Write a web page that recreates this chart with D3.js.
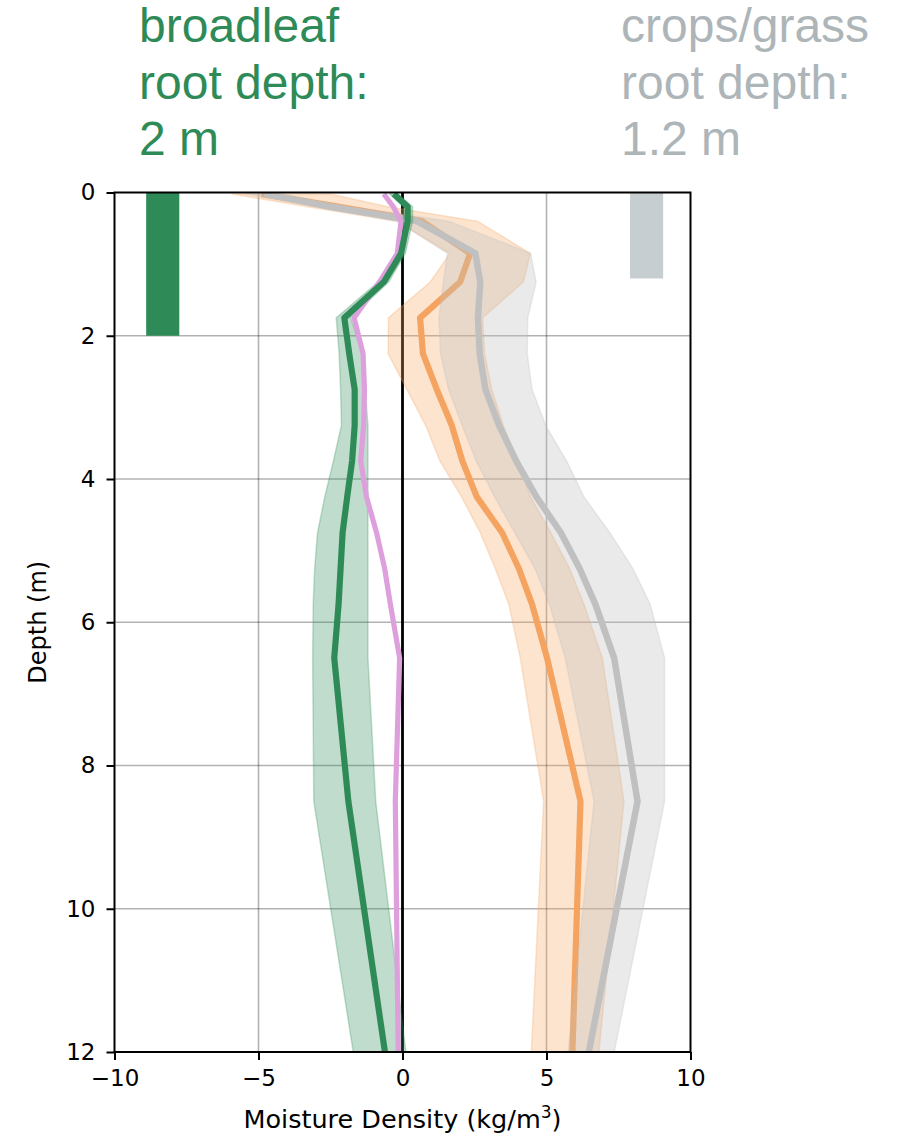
<!DOCTYPE html>
<html>
<head>
<meta charset="utf-8">
<script src="https://cdn.jsdelivr.net/npm/d3@7"></script>
<style>
  body { margin: 0; background: #fff; }
  svg { display: block; }
</style>
</head>
<body>
<svg id="chart" width="897" height="1138"></svg>
<script>
// Depth levels (m) at which the moisture-density profiles are sampled
const depth = [0.02, 0.2, 0.4, 0.85, 1.25, 1.75, 2.25, 2.75, 3.25, 3.75, 4.25, 4.75, 5.25, 5.75, 6.5, 8.5, 12];

// Broadleaf profile (green): mean and spread
const broadleafMean = [-0.3, 0.18, 0.18, -0.05, -0.65, -2.02, -1.85, -1.66, -1.66, -1.75, -1.92, -2.08, -2.15, -2.22, -2.37, -1.88, -0.61];
const broadleafLow  = [-0.45, 0.02, 0.02, -0.2, -0.85, -2.3, -2.2, -2.15, -2.12, -2.4, -2.7, -2.95, -3.05, -3.1, -3.12, -3.08, -1.71];
const broadleafHigh = [-0.15, 0.35, 0.35, 0.1, -0.48, -1.8, -1.4, -1.3, -1.2, -1.2, -1.2, -1.2, -1.2, -1.2, -1.2, -0.93, 0.12];

// Plum profile (no spread drawn)
const plumMean = [-0.65, -0.32, -0.05, -0.18, -0.8, -1.68, -1.37, -1.32, -1.35, -1.45, -1.25, -0.9, -0.62, -0.42, -0.1, -0.25, -0.15];

// Orange profile: mean and spread
const orangeMean = [-4.9, -2.2, 0.67, 2.35, 2.0, 0.61, 0.71, 1.19, 1.71, 2.08, 2.58, 3.46, 4.04, 4.5, 5.02, 6.18, 5.9];
const orangeLow  = [-5.9, -3.3, -0.2, 1.65, 0.96, -0.49, -0.5, 0.15, 0.8, 1.3, 2.05, 2.7, 3.22, 3.69, 4.09, 4.9, 4.47];
const orangeHigh = [-2.5, -0.5, 2.6, 4.44, 4.2, 2.78, 2.85, 3.1, 3.5, 4.0, 4.45, 5.15, 5.8, 6.3, 6.94, 7.69, 6.82];

// Crops/grass profile (grey): mean and spread
const cropsMean = [-4.8, -2.5, 0.5, 2.53, 2.7, 2.62, 2.68, 2.88, 3.35, 3.95, 4.65, 5.5, 6.15, 6.7, 7.35, 8.16, 6.47];
const cropsLow  = [-5.4, -3.0, -0.2, 1.56, 1.42, 1.27, 1.32, 1.6, 2.07, 2.56, 3.2, 3.9, 4.6, 5.1, 5.65, 6.65, 5.75];
const cropsHigh = [-4.2, -1.8, 1.6, 4.45, 4.64, 4.35, 4.33, 4.5, 4.97, 5.7, 6.3, 7.2, 8.0, 8.6, 9.1, 9.1, 7.35];

// Root-depth markers: depth reached and horizontal extent in data units
const rootNames = ["broadleaf", "crops/grass"];
const rootDepth = [2, 1.2];
const rootSpan = [[-8.9, -7.75], [7.9, 9.05]];

// Axis ticks
const xTicks = [-10, -5, 0, 5, 10];
const yTicks = [0, 2, 4, 6, 8, 10, 12];

// ---- layout ----
const plot = { left: 114.5, right: 690.5, top: 192.5, bottom: 1052 };
const svg = d3.select("#chart");

const x = d3.scaleLinear().domain([-10, 10]).range([plot.left, plot.right]);
const y = d3.scaleLinear().domain([0, 12]).range([plot.top, plot.bottom]);

svg.append("defs").append("clipPath").attr("id", "plot-clip")
  .append("rect")
  .attr("x", plot.left).attr("y", plot.top)
  .attr("width", plot.right - plot.left).attr("height", plot.bottom - plot.top);

// grid
const grid = svg.append("g").attr("stroke", "#000").attr("stroke-opacity", 0.3).attr("stroke-width", 1.6);
grid.selectAll("line.v").data(xTicks.slice(1, -1)).join("line")
  .attr("x1", d => x(d)).attr("x2", d => x(d))
  .attr("y1", plot.top).attr("y2", plot.bottom);
grid.selectAll("line.h").data(yTicks.slice(1, -1)).join("line")
  .attr("y1", d => y(d)).attr("y2", d => y(d))
  .attr("x1", plot.left).attr("x2", plot.right);

const layer = svg.append("g").attr("clip-path", "url(#plot-clip)");

// zero line
layer.append("line")
  .attr("x1", x(0)).attr("x2", x(0)).attr("y1", plot.top).attr("y2", plot.bottom)
  .attr("stroke", "#000").attr("stroke-width", 2.8);

// root-depth bars
const rootColors = ["#2e8b57", "#c6ced1"];
layer.selectAll("rect.root").data(rootDepth).join("rect")
  .attr("x", (d, i) => x(rootSpan[i][0]))
  .attr("width", (d, i) => x(rootSpan[i][1]) - x(rootSpan[i][0]))
  .attr("y", y(0))
  .attr("height", d => y(d) - y(0))
  .attr("fill", (d, i) => rootColors[i]);

const rows = (lo, hi) => depth.map((d, i) => ({ d, lo: lo[i], hi: hi[i] }));
const area = d3.area().x0(r => x(r.lo)).x1(r => x(r.hi)).y(r => y(r.d));
const line = d3.line().x(r => x(r.v)).y(r => y(r.d));
const pts = vals => depth.map((d, i) => ({ d, v: vals[i] }));

function band(lo, hi, color, op) {
  layer.append("path")
    .attr("d", area(rows(lo, hi)))
    .attr("fill", color).attr("fill-opacity", op)
    .attr("stroke", color).attr("stroke-opacity", op * 0.9).attr("stroke-width", 1.5)
    .attr("stroke-linejoin", "round");
}
function profile(vals, color, width) {
  layer.append("path")
    .attr("d", line(pts(vals)))
    .attr("fill", "none").attr("stroke", color).attr("stroke-width", width)
    .attr("stroke-linejoin", "round").attr("stroke-linecap", "butt");
}

band(orangeLow, orangeHigh, "#f4a460", 0.3);
profile(orangeMean, "#f4a460", 6.2);
band(cropsLow, cropsHigh, "#c0c0c0", 0.33);
profile(cropsMean, "#c0c0c0", 6.5);
band(broadleafLow, broadleafHigh, "#2e8b57", 0.3);
profile(plumMean, "#dda0dd", 5.2);
profile(broadleafMean, "#2e8b57", 6.2);

// frame
svg.append("rect")
  .attr("x", plot.left).attr("y", plot.top)
  .attr("width", plot.right - plot.left).attr("height", plot.bottom - plot.top)
  .attr("fill", "none").attr("stroke", "#000").attr("stroke-width", 2);

// axes
const tickFont = "DejaVu Sans, sans-serif";
const xAxis = svg.append("g").attr("transform", `translate(0,${plot.bottom})`)
  .call(d3.axisBottom(x).tickValues(xTicks).tickSize(8).tickPadding(10).tickFormat(d3.format("d")));
const yAxis = svg.append("g").attr("transform", `translate(${plot.left},0)`)
  .call(d3.axisLeft(y).tickValues(yTicks).tickSize(8).tickPadding(11).tickFormat(d3.format("d")));
[xAxis, yAxis].forEach(g => {
  g.select(".domain").remove();
  g.selectAll(".tick line").attr("stroke", "#000").attr("stroke-width", 2);
  g.selectAll(".tick text").attr("fill", "#000").style("font-family", tickFont).style("font-size", "23px");
});

svg.append("text")
  .attr("x", x(0)).attr("y", 1128)
  .attr("text-anchor", "middle")
  .style("font-family", tickFont).style("font-size", "25.5px")
  .text("Moisture Density (kg/m")
  .append("tspan").attr("dy", -10).style("font-size", "17px").text("3")
  .select(function () { return this.parentNode; })
  .append("tspan").attr("dy", 10).text(")");

svg.append("text")
  .attr("transform", `translate(46,${(plot.top + plot.bottom) / 2}) rotate(-90)`)
  .attr("text-anchor", "middle")
  .style("font-family", tickFont).style("font-size", "24px")
  .text("Depth (m)");

// root-depth captions above the plot
const captionColors = ["#2e8b57", "#adb5b8"];
const captionX = [139, 621];
const captionLines = i => [rootNames[i], "root depth:", `${rootDepth[i]} m`];
rootNames.forEach((name, i) => {
  const t = svg.append("text")
    .attr("fill", captionColors[i])
    .style("font-family", "Liberation Sans, Arial, sans-serif")
    .style("font-size", "48px");
  captionLines(i).forEach((s, k) => {
    t.append("tspan").attr("x", captionX[i]).attr("y", 42 + k * 56.5).text(s);
  });
});
</script>
</body>
</html>
